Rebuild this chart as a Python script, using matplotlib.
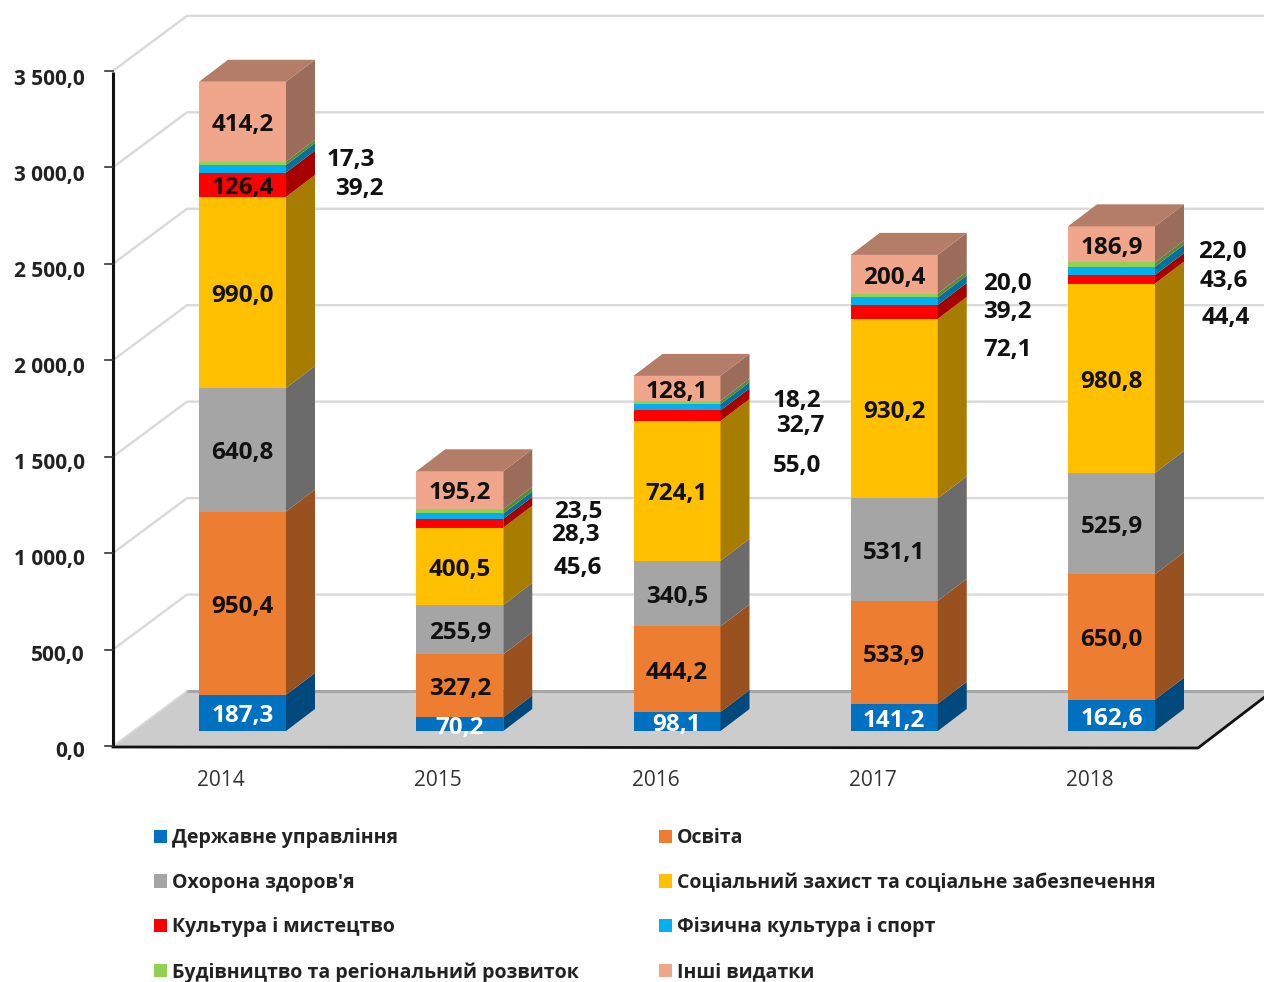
import matplotlib
matplotlib.use("Agg")
import matplotlib.pyplot as plt
from matplotlib.patches import Patch
from matplotlib.colors import to_rgb

# ---------- data ----------
years = ["2014", "2015", "2016", "2017", "2018"]
series_names = ["Державне управління", "Освіта", "Охорона здоров'я",
                "Соціальний захист та соціальне забезпечення",
                "Культура і мистецтво", "Фізична культура і спорт",
                "Будівництво та регіональний розвиток", "Інші видатки"]
derzh = [187.3, 70.2, 98.1, 141.2, 162.6]
osvita = [950.4, 327.2, 444.2, 533.9, 650.0]
zdorov = [640.8, 255.9, 340.5, 531.1, 525.9]
social = [990.0, 400.5, 724.1, 930.2, 980.8]
kultura = [126.4, 45.6, 55.0, 72.1, 44.4]
sport = [39.2, 28.3, 32.7, 39.2, 43.6]
budiv = [17.3, 23.5, 18.2, 20.0, 22.0]
inshi = [414.2, 195.2, 128.1, 200.4, 186.9]
series = [derzh, osvita, zdorov, social, kultura, sport, budiv, inshi]
colors = ["#0070C0", "#ED7D31", "#A5A5A5", "#FFC000", "#FF0000", "#00B0F0", "#92D050", "#F0A68A"]
y_ticks = [0, 500, 1000, 1500, 2000, 2500, 3000, 3500]

# ---------- layout (pixels of the 1264x982 canvas) ----------
W, H = 1264, 982
PX_PER_UNIT = 0.1929
BASE_PY = 731
X0_PX, STEP_PX = 242.5, 217.25
BAR_PX = 87
DEPTH_X, DEPTH_Y = 29, 22
WALL_FRONT_X, WALL_BACK_X, WALL_DY = 113, 187, 55
AXIS_PY = 746

def X(px):
    return (px - X0_PX) / STEP_PX

def Y(py):
    return (BASE_PY - py) / PX_PER_UNIT

FONT = "Open Sans"
plt.rcParams["font.family"] = [FONT, "DejaVu Sans"]

fig = plt.figure(figsize=(W / 100, H / 100), dpi=100, facecolor="white")
ax = fig.add_axes([0, 0, 1, 1])
ax.set_xlim(X(0), X(W))
ax.set_ylim(Y(H), Y(0))
ax.axis("off")

dx = DEPTH_X / STEP_PX
dy = DEPTH_Y / PX_PER_UNIT
wall_off = (AXIS_PY - BASE_PY) / PX_PER_UNIT     # value offset of the front plane
wall_dy = WALL_DY / PX_PER_UNIT
hw = BAR_PX / STEP_PX / 2
LABEL_SHIFT = 3.3 / PX_PER_UNIT                   # labels sit slightly lower than the segment centre

def shade(c, k):
    return tuple(v * k for v in to_rgb(c))

# walls and gridlines
for v in y_ticks[1:]:
    yf = v - wall_off
    ax.plot([X(WALL_FRONT_X), X(WALL_BACK_X), X(W + 5)], [yf, yf + wall_dy, yf + wall_dy],
            color="#D9D9D9", lw=1.7, zorder=1, solid_joinstyle="miter")

# floor
floor_x = [X(WALL_FRONT_X), X(WALL_BACK_X), X(W + 10), X(1198)]
floor_y = [Y(747), Y(691), Y(691), Y(748)]
ax.fill(floor_x, floor_y, color="#CCCCCC", lw=0, zorder=2)
ax.plot([X(WALL_BACK_X), X(W + 5)], [Y(691), Y(691)], color="#A6A6A6", lw=2.2, zorder=2.1)
ax.plot([X(WALL_FRONT_X), X(WALL_BACK_X)], [Y(746), Y(691)], color="#D9D9D9", lw=1.2, zorder=2.1)

# bars
for i in range(len(years)):
    bottom = 0.0
    for s, vals in enumerate(series):
        v = vals[i]
        col = colors[s]
        ax.bar(i, v, width=2 * hw, bottom=bottom, color=col, lw=0, zorder=3 + s * 0.01)
        xr = i + hw
        ax.fill([xr, xr + dx, xr + dx, xr],
                [bottom, bottom + dy, bottom + v + dy, bottom + v],
                color=shade(col, 0.65), lw=0, zorder=3 + s * 0.01)
        if s == len(series) - 1:
            top = bottom + v
            ax.fill([i - hw, i - hw + dx, xr + dx, xr],
                    [top, top + dy, top + dy, top],
                    color=shade(col, 0.75), lw=0, zorder=3 + s * 0.01)
        if s <= 3 or s == 7 or (s == 4 and i == 0):
            ax.text(i, bottom + v / 2 - LABEL_SHIFT, f"{v:.1f}".replace(".", ","), ha="center", va="center",
                    fontsize=17.5, fontweight="bold", zorder=6,
                    color="white" if s == 0 else "#111111")
        bottom += v

# outside labels: (series index, year index, x px, y px)
side_labels = [(5, 0, 359, 187), (6, 0, 351, 158),
               (4, 1, 578, 566), (5, 1, 575, 533), (6, 1, 578, 510),
               (4, 2, 797, 464), (5, 2, 800, 424), (6, 2, 797, 399),
               (4, 3, 1008, 348), (5, 3, 1007, 310), (6, 3, 1007, 282),
               (4, 4, 1226, 316), (5, 4, 1224, 279), (6, 4, 1222, 250)]
for s, i, px, py in side_labels:
    ax.text(X(px), Y(py + 2), f"{series[s][i]:.1f}".replace(".", ","), ha="center", va="center",
            fontsize=17.5, fontweight="bold", color="#111111", zorder=6)

# axes lines
ax.plot([X(WALL_FRONT_X), X(WALL_FRONT_X)], [Y(72), Y(747)], color="#111111", lw=2.2, zorder=5,
        solid_capstyle="butt")
ax.plot([X(WALL_FRONT_X), X(1198), X(W + 2)], [Y(747), Y(748), Y(696)], color="#111111", lw=2.0, zorder=5)
for k, v in enumerate(y_ticks):
    ax.plot([X(105), X(WALL_FRONT_X)], [v - wall_off] * 2, color="#333333", lw=1.2, zorder=5)
    ax.text(X(85), Y(751 - 96.0 * k), f"{v:,.1f}".replace(",", " ").replace(".", ","),
            ha="right", va="center", fontsize=15, fontweight="bold", color="#222222", zorder=6)

for i, y in enumerate(years):
    ax.text(i - 21.5 / STEP_PX, Y(780), y, ha="center", va="center", fontsize=15, color="#333333")

# legend (column-first order gives rows as in the reference)
order = [0, 2, 4, 6, 1, 3, 5, 7]
handles = [Patch(facecolor=colors[k], edgecolor="none", label=series_names[k]) for k in order]
ax.legend(handles=handles, ncols=2, frameon=False, loc="upper left",
          bbox_to_anchor=(X(154), Y(828)), bbox_transform=ax.transData,
          prop={"family": FONT, "weight": "bold", "size": 14.0}, labelcolor="#222222",
          handlelength=0.68, handleheight=0.68, handletextpad=0.25,
          labelspacing=1.27, columnspacing=4.1, borderpad=0, borderaxespad=0)

fig.savefig("out.png", dpi=100, facecolor="white")
